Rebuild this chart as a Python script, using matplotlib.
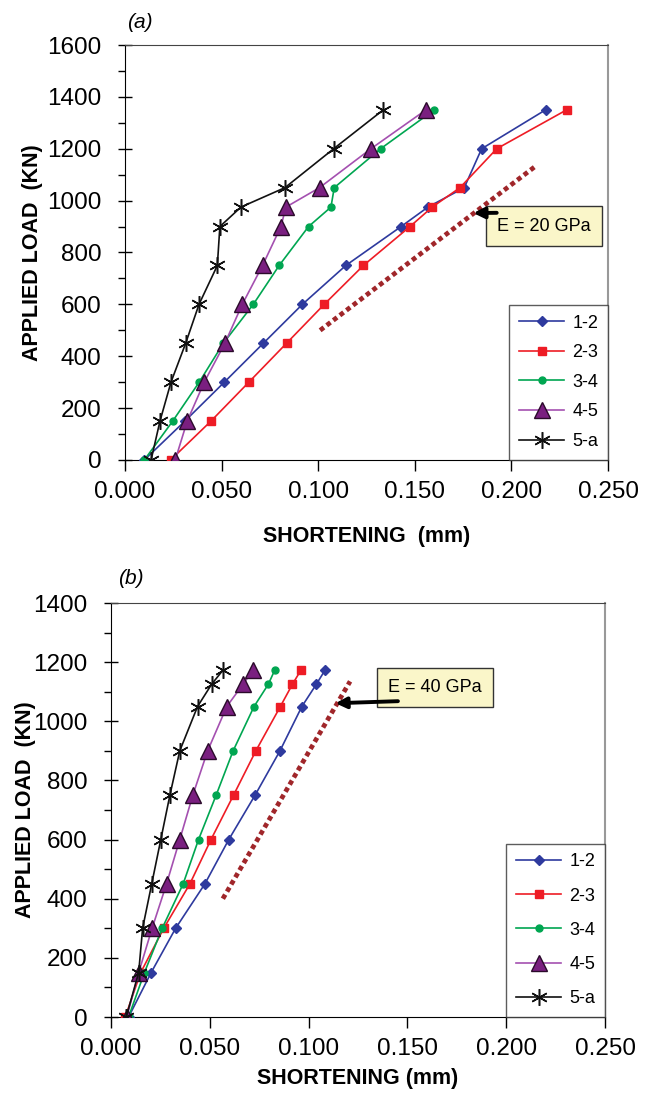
import numpy as np
import matplotlib
matplotlib.use('Agg')
import matplotlib.pyplot as plt
from matplotlib.ticker import MultipleLocator, FormatStrFormatter


# ------------------------------------------------------- #
# Datos

series_names = ['1-2', '2-3', '3-4', '4-5', '5-a']

# (a) E = 20 GPa
load_a = [0, 150, 300, 450, 600, 750, 900, 975, 1050, 1200, 1350]
short_a_12 = [0.0100, 0.0310, 0.0514, 0.0716, 0.0918, 0.1143, 0.1429, 0.1568, 0.1756, 0.1846, 0.2177]
short_a_23 = [0.0236, 0.0445, 0.0641, 0.0836, 0.1031, 0.1234, 0.1475, 0.1590, 0.1734, 0.1924, 0.2286]
short_a_34 = [0.0100, 0.0247, 0.0384, 0.0509, 0.0664, 0.0798, 0.0950, 0.1066, 0.1083, 0.1323, 0.1601]
short_a_45 = [0.0260, 0.0322, 0.0410, 0.0517, 0.0607, 0.0712, 0.0807, 0.0833, 0.1007, 0.1273, 0.1558]
short_a_5a = [0.0135, 0.0181, 0.0238, 0.0314, 0.0383, 0.0478, 0.0491, 0.0600, 0.0828, 0.1080, 0.1337]
ref_a_x = [0.101, 0.212]
ref_a_y = [500, 1130]

# (b) E = 40 GPa
load_b = [0, 150, 300, 450, 600, 750, 900, 1050, 1125, 1175]
short_b_12 = [0.0089, 0.0203, 0.0327, 0.0475, 0.0596, 0.0729, 0.0855, 0.0966, 0.1039, 0.1085]
short_b_23 = [0.0072, 0.0150, 0.0267, 0.0399, 0.0506, 0.0620, 0.0733, 0.0857, 0.0918, 0.0963]
short_b_34 = [0.0089, 0.0169, 0.0259, 0.0365, 0.0443, 0.0532, 0.0618, 0.0724, 0.0796, 0.0830]
short_b_45 = [0.0080, 0.0140, 0.0208, 0.0281, 0.0348, 0.0414, 0.0489, 0.0586, 0.0668, 0.0721]
short_b_5a = [0.0077, 0.0140, 0.0160, 0.0206, 0.0252, 0.0298, 0.0348, 0.0438, 0.0509, 0.0569]
ref_b_x = [0.0566, 0.121]
ref_b_y = [400, 1135]


# ------------------------------------------------------- #
# Estilos

plt.rcParams['font.family'] = ['Liberation Sans', 'DejaVu Sans']

styles = {
    '1-2': dict(color='#2E3A9E', marker='D', ms=5, mfc='#2E3A9E', mec='#2E3A9E'),
    '2-3': dict(color='#EE1C25', marker='s', ms=5.5, mfc='#EE1C25', mec='#EE1C25'),
    '3-4': dict(color='#00A651', marker='o', ms=5, mfc='#00A651', mec='#00A651'),
    '4-5': dict(color='#A450B0', marker='^', ms=11, mfc='#7A1F80', mec='#2A0A2A', mew=1.0),
    '5-a': dict(color='#111111', marker=(6, 2, 0), ms=12, mfc='#111111', mec='#111111', mew=1.1),
}

fig = plt.figure(figsize=(6.54, 11.01), dpi=100)

ax_a = fig.add_axes([125/654, 1-460/1101, (608-125)/654, (460-45)/1101])
ax_b = fig.add_axes([111/654, 1-1017/1101, (605-111)/654, (1017-603)/1101])

panels = [
    (ax_a, load_a, [short_a_12, short_a_23, short_a_34, short_a_45, short_a_5a],
     ref_a_x, ref_a_y, 1600, 'SHORTENING  (mm)', 17, 3, 0.70,
     'E = 20 GPa', (0.2169, 902), (0.1924, 953), (0.1803, 952)),
    (ax_b, load_b, [short_b_12, short_b_23, short_b_34, short_b_45, short_b_5a],
     ref_b_x, ref_b_y, 1400, 'SHORTENING (mm)', 6, -2, 0.95,
     'E = 40 GPa', (0.1641, 1114), (0.1452, 1068), (0.1136, 1061)),
]

for ax, loads, shorts, rx, ry, ymax, xlab, xpad, ypad, lspace, etxt, bpos, tail, tip in panels:
    #
    for name, xs in zip(series_names, shorts):
        st = styles[name]
        ax.plot(xs, loads, lw=1.2, label=name, zorder=3, **st)
    # End for

    # linea de referencia (punteada)
    ax.plot(rx, ry, color='#A0262A', lw=3.4, linestyle=(0, (1.0, 0.75)),
            dash_capstyle='butt', zorder=2)

    # caja + flecha
    ax.text(bpos[0], bpos[1], etxt, fontsize=13, ha='center', va='center',
            zorder=6,
            bbox=dict(boxstyle='square,pad=0.62', fc='#FAF6C9', ec='#333333', lw=1.0))
    ax.annotate('', xy=tip, xytext=tail, zorder=7,
                arrowprops=dict(arrowstyle='-|>', color='black', lw=2.8,
                                mutation_scale=16, shrinkA=0, shrinkB=0))

    ax.set_xlim(0, 0.25)
    ax.set_ylim(0, ymax)
    ax.xaxis.set_major_locator(MultipleLocator(0.05))
    ax.xaxis.set_major_formatter(FormatStrFormatter('%.3f'))
    ax.yaxis.set_major_locator(MultipleLocator(200))
    ax.yaxis.set_minor_locator(MultipleLocator(100))
    ax.tick_params(axis='y', which='major', direction='inout', length=10, width=1, labelsize=17.5, pad=12)
    ax.tick_params(axis='y', which='minor', direction='out', length=5, width=1)
    ax.tick_params(axis='x', which='major', direction='out', length=8, width=1, labelsize=17.5, pad=7)

    ax.spines['top'].set_color('#444444')
    ax.spines['right'].set_color('#999999')
    ax.spines['right'].set_linewidth(1.5)
    ax.spines['left'].set_color('black')
    ax.spines['bottom'].set_color('black')

    ax.set_xlabel(xlab, fontsize=15.5, fontweight='bold', labelpad=xpad)
    ax.set_ylabel('APPLIED LOAD  (KN)', fontsize=15.5, fontweight='bold', labelpad=ypad)

    leg = ax.legend(loc='lower right', bbox_to_anchor=(1.0, 0.0), borderaxespad=0,
                    fontsize=13, frameon=True, fancybox=False, shadow=False,
                    handlelength=2.5, handletextpad=0.45, labelspacing=lspace,
                    borderpad=0.55)
    leg.get_frame().set_edgecolor('#333333')
    leg.get_frame().set_linewidth(1.0)
    leg.set_zorder(10)
# End for

fig.text(140/654, 1-22/1101, '(a)', fontsize=15, style='italic', ha='center', va='center')
fig.text(131/654, 1-578/1101, '(b)', fontsize=15, style='italic', ha='center', va='center')

plt.savefig('out.png', dpi=100, facecolor='white')
